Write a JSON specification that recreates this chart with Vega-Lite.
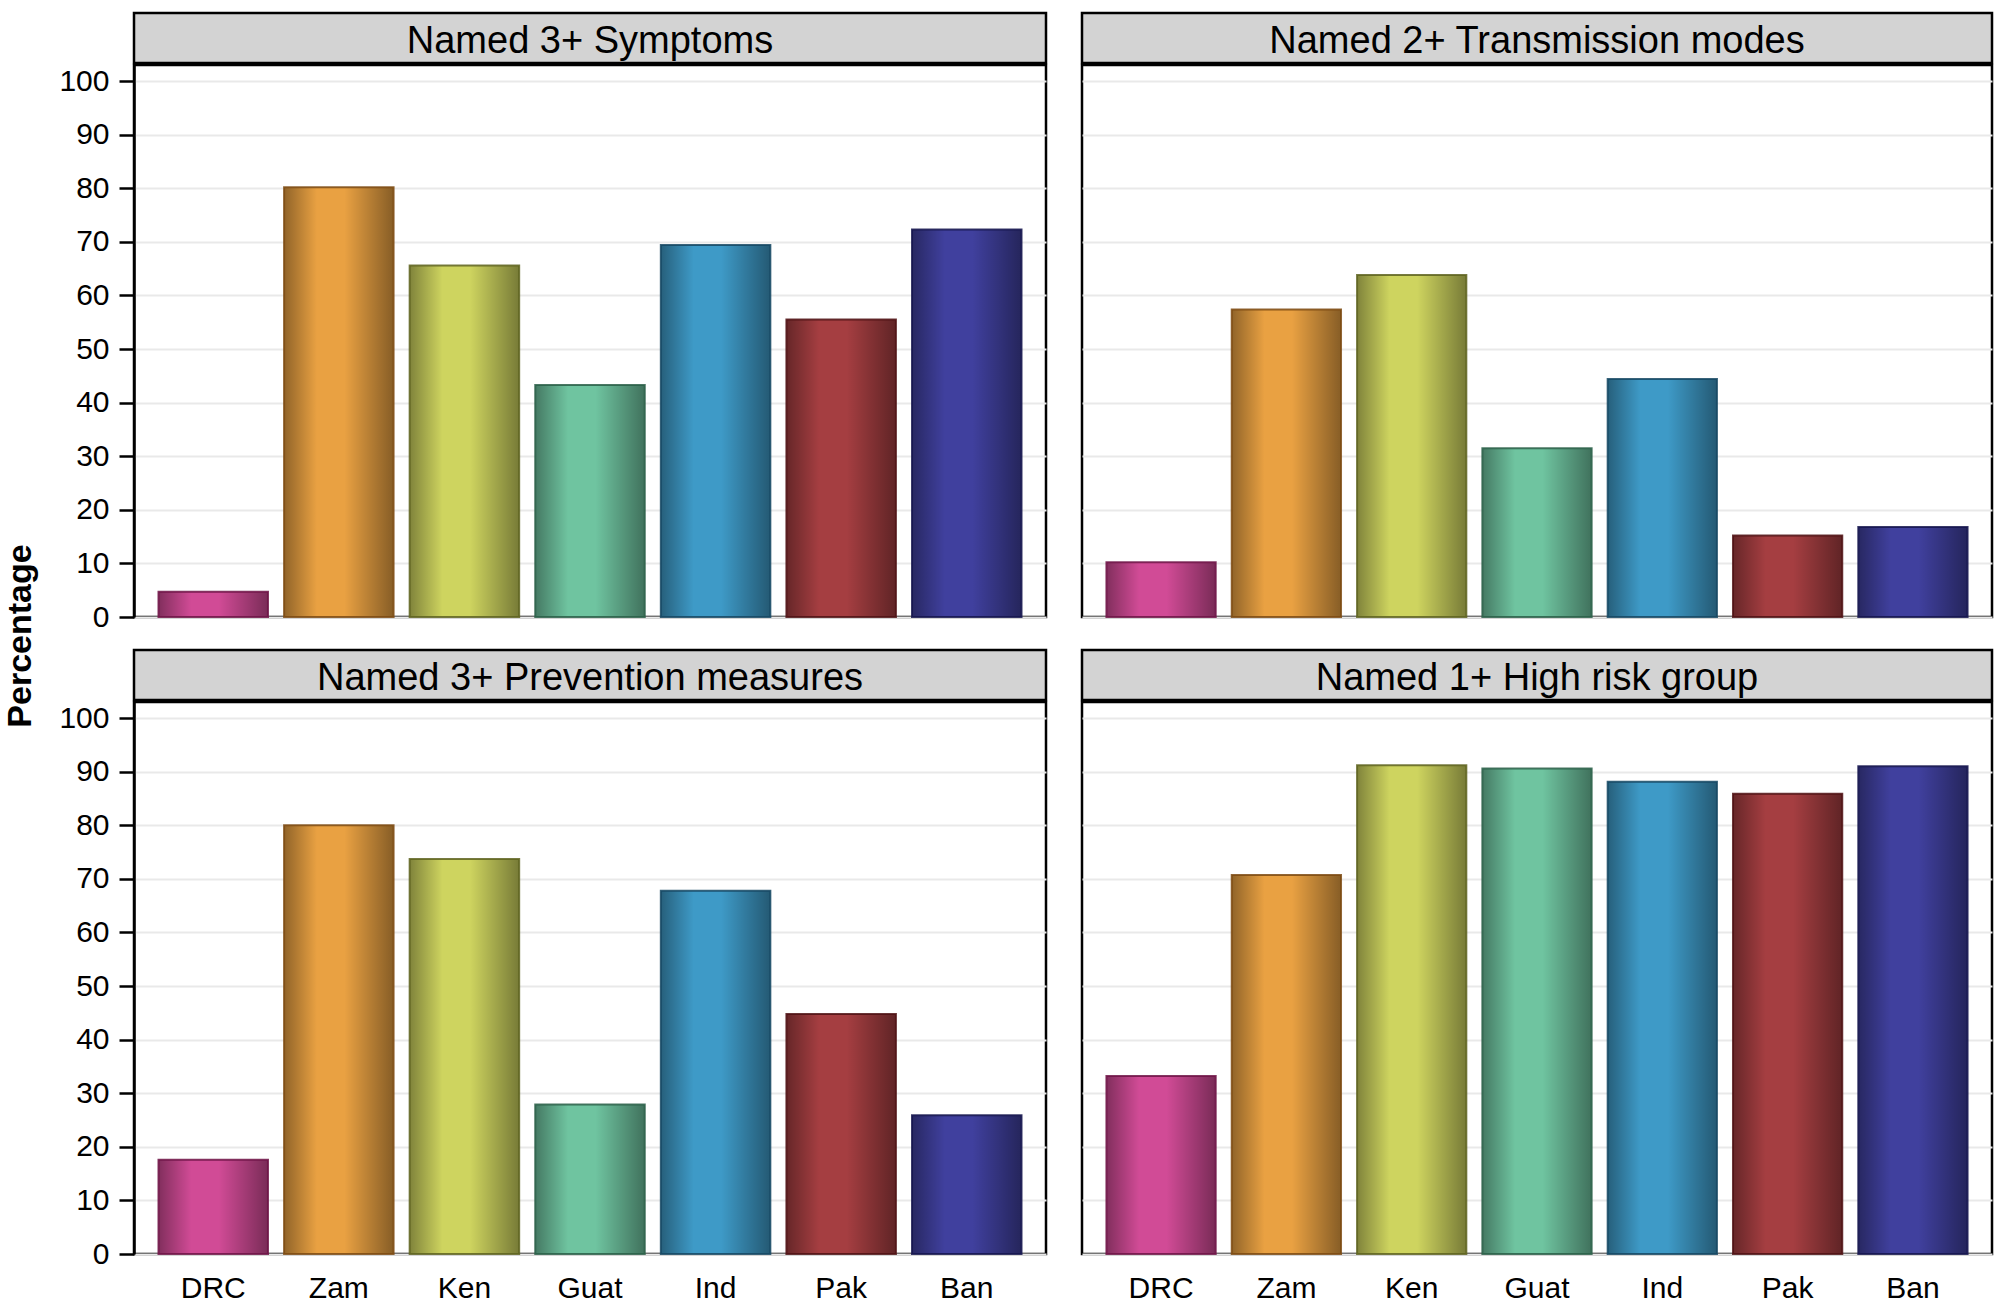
{
  "$schema": "https://vega.github.io/schema/vega-lite/v6.json",
  "padding": {"left": 3, "top": 11, "right": 2, "bottom": 0},
  "background": "white",
  "title": {"text": "Percentage", "orient": "left", "anchor": "middle", "font": "Liberation Sans", "fontSize": 34, "fontWeight": "bold", "color": "black", "offset": 20, "dx": 22},
  "config": {
    "font": "Liberation Sans",
    "view": {"stroke": "black", "strokeWidth": 2.5}
  },
  "datasets": {
    "bars": [
      {"panel": "Symptoms", "country": "DRC", "value": 4.7},
      {"panel": "Symptoms", "country": "Zam", "value": 80.2},
      {"panel": "Symptoms", "country": "Ken", "value": 65.6},
      {"panel": "Symptoms", "country": "Guat", "value": 43.3},
      {"panel": "Symptoms", "country": "Ind", "value": 69.4},
      {"panel": "Symptoms", "country": "Pak", "value": 55.5},
      {"panel": "Symptoms", "country": "Ban", "value": 72.3},
      {"panel": "Transmission", "country": "DRC", "value": 10.2},
      {"panel": "Transmission", "country": "Zam", "value": 57.4},
      {"panel": "Transmission", "country": "Ken", "value": 63.8},
      {"panel": "Transmission", "country": "Guat", "value": 31.5},
      {"panel": "Transmission", "country": "Ind", "value": 44.4},
      {"panel": "Transmission", "country": "Pak", "value": 15.2},
      {"panel": "Transmission", "country": "Ban", "value": 16.8},
      {"panel": "Prevention", "country": "DRC", "value": 17.6},
      {"panel": "Prevention", "country": "Zam", "value": 80.0},
      {"panel": "Prevention", "country": "Ken", "value": 73.7},
      {"panel": "Prevention", "country": "Guat", "value": 27.9},
      {"panel": "Prevention", "country": "Ind", "value": 67.8},
      {"panel": "Prevention", "country": "Pak", "value": 44.8},
      {"panel": "Prevention", "country": "Ban", "value": 25.9},
      {"panel": "HighRisk", "country": "DRC", "value": 33.2},
      {"panel": "HighRisk", "country": "Zam", "value": 70.7},
      {"panel": "HighRisk", "country": "Ken", "value": 91.2},
      {"panel": "HighRisk", "country": "Guat", "value": 90.6},
      {"panel": "HighRisk", "country": "Ind", "value": 88.1},
      {"panel": "HighRisk", "country": "Pak", "value": 85.9},
      {"panel": "HighRisk", "country": "Ban", "value": 91.0}
    ]
  },
  "spacing": 14,
  "vconcat": [
    {
      "spacing": 32,
      "hconcat": [
        {
          "spacing": -5,
          "vconcat": [
            {
              "width": 912, "height": 50,
              "data": {"values": [{"t": "Named 3+ Symptoms"}]},
              "mark": {"type": "text", "font": "Liberation Sans", "fontSize": 38, "color": "black", "baseline": "middle", "align": "center", "dy": 4},
              "encoding": {"text": {"field": "t"}},
              "view": {"fill": "#d3d3d3", "stroke": "black", "strokeWidth": 2.5}
            },
            {
              "width": 912, "height": 552,
              "data": {"name": "bars"},
              "transform": [{"filter": {"field": "panel", "equal": "Symptoms"}}],
              "encoding": {
                "x": {"field": "country", "type": "nominal", "sort": ["DRC", "Zam", "Ken", "Guat", "Ind", "Pak", "Ban"], "scale": {"paddingInner": 0.128, "paddingOuter": 0.195}, "axis": null},
                "y": {"field": "value", "type": "quantitative", "scale": {"domain": [0, 103], "nice": false}, "axis": {"values": [0, 10, 20, 30, 40, 50, 60, 70, 80, 90, 100], "title": null, "tickSize": 15, "tickWidth": 2.5, "tickColor": "black", "labelFont": "Liberation Sans", "labelFontSize": 30, "labelColor": "black", "labelPadding": 10, "domainColor": "black", "domainWidth": 2.5, "grid": true, "gridColor": "#e9e9e9", "gridWidth": 2}}
              },
              "layer": [
                {
                  "mark": {"type": "bar"},
                  "encoding": {
                    "fill": {"field": "country", "type": "nominal", "legend": null, "scale": {"domain": ["DRC", "Zam", "Ken", "Guat", "Ind", "Pak", "Ban"], "range": ["#d14b96", "#e9a142", "#ced45f", "#6fc4a0", "#3e9ac7", "#a53e41", "#40409e"]}}
                  }
                },
                {
                  "mark": {"type": "bar", "strokeWidth": 2, "strokeOpacity": 0.85, "fill": {"gradient": "linear", "x1": 0, "y1": 0, "x2": 1, "y2": 0, "stops": [{"offset": 0, "color": "rgba(0,0,0,0.38)"}, {"offset": 0.3, "color": "rgba(0,0,0,0)"}, {"offset": 0.55, "color": "rgba(0,0,0,0)"}, {"offset": 1, "color": "rgba(0,0,0,0.42)"}]}},
                  "encoding": {
                    "stroke": {"field": "country", "type": "nominal", "legend": null, "scale": {"domain": ["DRC", "Zam", "Ken", "Guat", "Ind", "Pak", "Ban"], "range": ["#6e1446", "#7d4a12", "#5e6320", "#2a5f48", "#164863", "#4f1214", "#15154d"]}}
                  }
                }
              ],
              "view": {"stroke": "black", "strokeWidth": 2.5}
            }
          ]
        },
        {
          "spacing": -5,
          "vconcat": [
            {
              "width": 910, "height": 50,
              "data": {"values": [{"t": "Named 2+ Transmission modes"}]},
              "mark": {"type": "text", "font": "Liberation Sans", "fontSize": 38, "color": "black", "baseline": "middle", "align": "center", "dy": 4},
              "encoding": {"text": {"field": "t"}},
              "view": {"fill": "#d3d3d3", "stroke": "black", "strokeWidth": 2.5}
            },
            {
              "width": 910, "height": 552,
              "data": {"name": "bars"},
              "transform": [{"filter": {"field": "panel", "equal": "Transmission"}}],
              "encoding": {
                "x": {"field": "country", "type": "nominal", "sort": ["DRC", "Zam", "Ken", "Guat", "Ind", "Pak", "Ban"], "scale": {"paddingInner": 0.128, "paddingOuter": 0.195}, "axis": null},
                "y": {"field": "value", "type": "quantitative", "scale": {"domain": [0, 103], "nice": false}, "axis": {"values": [0, 10, 20, 30, 40, 50, 60, 70, 80, 90, 100], "title": null, "labels": false, "ticks": false, "domain": false, "grid": true, "gridColor": "#e9e9e9", "gridWidth": 2}}
              },
              "layer": [
                {
                  "mark": {"type": "bar"},
                  "encoding": {"fill": {"field": "country", "type": "nominal", "legend": null}}
                },
                {
                  "mark": {"type": "bar", "strokeWidth": 2, "strokeOpacity": 0.85, "fill": {"gradient": "linear", "x1": 0, "y1": 0, "x2": 1, "y2": 0, "stops": [{"offset": 0, "color": "rgba(0,0,0,0.38)"}, {"offset": 0.3, "color": "rgba(0,0,0,0)"}, {"offset": 0.55, "color": "rgba(0,0,0,0)"}, {"offset": 1, "color": "rgba(0,0,0,0.42)"}]}},
                  "encoding": {"stroke": {"field": "country", "type": "nominal", "legend": null}}
                }
              ],
              "view": {"stroke": "black", "strokeWidth": 2.5}
            }
          ]
        }
      ]
    },
    {
      "spacing": 32,
      "hconcat": [
        {
          "spacing": -5,
          "vconcat": [
            {
              "width": 912, "height": 50,
              "data": {"values": [{"t": "Named 3+ Prevention measures"}]},
              "mark": {"type": "text", "font": "Liberation Sans", "fontSize": 38, "color": "black", "baseline": "middle", "align": "center", "dy": 4},
              "encoding": {"text": {"field": "t"}},
              "view": {"fill": "#d3d3d3", "stroke": "black", "strokeWidth": 2.5}
            },
            {
              "width": 912, "height": 552,
              "data": {"name": "bars"},
              "transform": [{"filter": {"field": "panel", "equal": "Prevention"}}],
              "encoding": {
                "x": {"field": "country", "type": "nominal", "sort": ["DRC", "Zam", "Ken", "Guat", "Ind", "Pak", "Ban"], "scale": {"paddingInner": 0.128, "paddingOuter": 0.195}, "axis": {"title": null, "labelAngle": 0, "ticks": false, "tickSize": 0, "domain": false, "labelFont": "Liberation Sans", "labelFontSize": 30, "labelColor": "black", "labelPadding": 19}},
                "y": {"field": "value", "type": "quantitative", "scale": {"domain": [0, 103], "nice": false}, "axis": {"values": [0, 10, 20, 30, 40, 50, 60, 70, 80, 90, 100], "title": null, "tickSize": 15, "tickWidth": 2.5, "tickColor": "black", "labelFont": "Liberation Sans", "labelFontSize": 30, "labelColor": "black", "labelPadding": 10, "domainColor": "black", "domainWidth": 2.5, "grid": true, "gridColor": "#e9e9e9", "gridWidth": 2}}
              },
              "layer": [
                {
                  "mark": {"type": "bar"},
                  "encoding": {"fill": {"field": "country", "type": "nominal", "legend": null}}
                },
                {
                  "mark": {"type": "bar", "strokeWidth": 2, "strokeOpacity": 0.85, "fill": {"gradient": "linear", "x1": 0, "y1": 0, "x2": 1, "y2": 0, "stops": [{"offset": 0, "color": "rgba(0,0,0,0.38)"}, {"offset": 0.3, "color": "rgba(0,0,0,0)"}, {"offset": 0.55, "color": "rgba(0,0,0,0)"}, {"offset": 1, "color": "rgba(0,0,0,0.42)"}]}},
                  "encoding": {"stroke": {"field": "country", "type": "nominal", "legend": null}}
                }
              ],
              "view": {"stroke": "black", "strokeWidth": 2.5}
            }
          ]
        },
        {
          "spacing": -5,
          "vconcat": [
            {
              "width": 910, "height": 50,
              "data": {"values": [{"t": "Named 1+ High risk group"}]},
              "mark": {"type": "text", "font": "Liberation Sans", "fontSize": 38, "color": "black", "baseline": "middle", "align": "center", "dy": 4},
              "encoding": {"text": {"field": "t"}},
              "view": {"fill": "#d3d3d3", "stroke": "black", "strokeWidth": 2.5}
            },
            {
              "width": 910, "height": 552,
              "data": {"name": "bars"},
              "transform": [{"filter": {"field": "panel", "equal": "HighRisk"}}],
              "encoding": {
                "x": {"field": "country", "type": "nominal", "sort": ["DRC", "Zam", "Ken", "Guat", "Ind", "Pak", "Ban"], "scale": {"paddingInner": 0.128, "paddingOuter": 0.195}, "axis": {"title": null, "labelAngle": 0, "ticks": false, "tickSize": 0, "domain": false, "labelFont": "Liberation Sans", "labelFontSize": 30, "labelColor": "black", "labelPadding": 19}},
                "y": {"field": "value", "type": "quantitative", "scale": {"domain": [0, 103], "nice": false}, "axis": {"values": [0, 10, 20, 30, 40, 50, 60, 70, 80, 90, 100], "title": null, "labels": false, "ticks": false, "domain": false, "grid": true, "gridColor": "#e9e9e9", "gridWidth": 2}}
              },
              "layer": [
                {
                  "mark": {"type": "bar"},
                  "encoding": {"fill": {"field": "country", "type": "nominal", "legend": null}}
                },
                {
                  "mark": {"type": "bar", "strokeWidth": 2, "strokeOpacity": 0.85, "fill": {"gradient": "linear", "x1": 0, "y1": 0, "x2": 1, "y2": 0, "stops": [{"offset": 0, "color": "rgba(0,0,0,0.38)"}, {"offset": 0.3, "color": "rgba(0,0,0,0)"}, {"offset": 0.55, "color": "rgba(0,0,0,0)"}, {"offset": 1, "color": "rgba(0,0,0,0.42)"}]}},
                  "encoding": {"stroke": {"field": "country", "type": "nominal", "legend": null}}
                }
              ],
              "view": {"stroke": "black", "strokeWidth": 2.5}
            }
          ]
        }
      ]
    }
  ]
}
